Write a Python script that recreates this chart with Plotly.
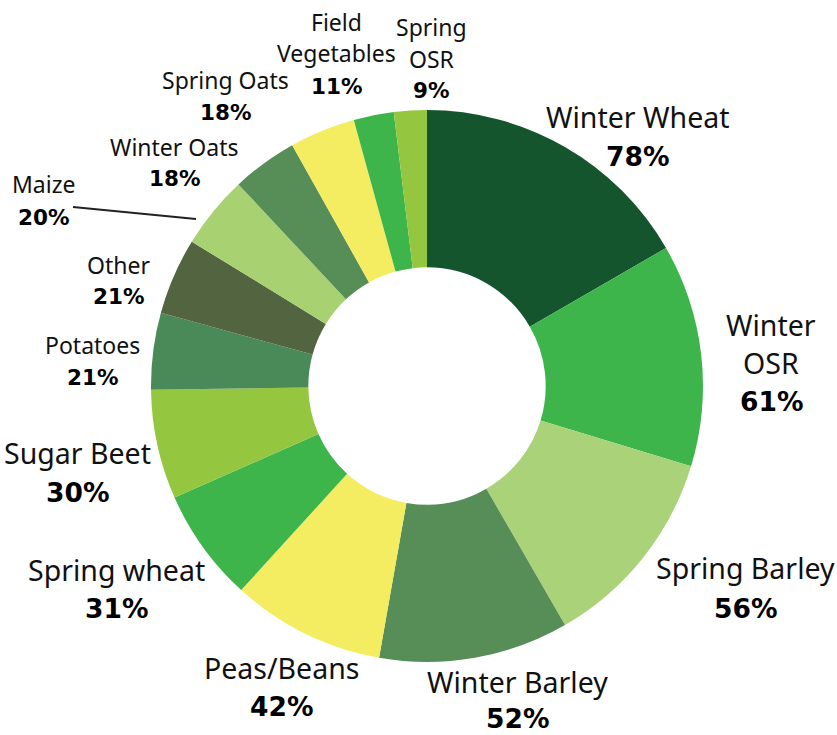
import plotly.graph_objects as go

crops = ["Winter Wheat", "Winter OSR", "Spring Barley", "Winter Barley", "Peas/Beans",
         "Spring wheat", "Sugar Beet", "Potatoes", "Other", "Maize", "Winter Oats",
         "Spring Oats", "Field Vegetables", "Spring OSR"]
values = [78, 61, 56, 52, 42, 31, 30, 21, 21, 20, 18, 18, 11, 9]
label_lines = [["Winter Wheat"], ["Winter", "OSR"], ["Spring Barley"], ["Winter Barley"],
               ["Peas/Beans"], ["Spring wheat"], ["Sugar Beet"], ["Potatoes"], ["Other"],
               ["Maize"], ["Winter Oats"], ["Spring Oats"], ["Field", "Vegetables"],
               ["Spring", "OSR"]]

colors = ["#14552E", "#3DB54B", "#AAD279", "#578E57", "#F4EC61", "#3DB54B", "#95C63F",
          "#4A8A58", "#526440", "#A8D171", "#578E57", "#F4EC61", "#3DB54B", "#95C63F"]

W, H = 837, 735
# label layout in pixels: x centre, y of each name line, y of percent, size class
label_pos = {
    "Winter Wheat": (637, [117], 156, "L"),
    "Winter OSR": (771, [325, 363], 401, "L"),
    "Spring Barley": (745, [568], 608, "L"),
    "Winter Barley": (517, [682], 718, "L"),
    "Peas/Beans": (281, [668], 706, "L"),
    "Spring wheat": (117, [570], 608, "L"),
    "Sugar Beet": (77, [453], 492, "L"),
    "Potatoes": (92, [345], 377, "S"),
    "Other": (118, [265], 297, "S"),
    "Maize": (43, [184], 217, "S"),
    "Winter Oats": (174, [147], 179, "S"),
    "Spring Oats": (225, [80], 112, "S"),
    "Field Vegetables": (336, [22, 53], 86, "S"),
    "Spring OSR": (431, [27, 59], 90, "S"),
}
name_size = {"L": 28.5, "S": 23}
pct_size = {"L": 26.5, "S": 21.5}

cx, cy, R = 427, 386, 276

fig = go.Figure(go.Pie(
    labels=crops, values=values, sort=False, direction="clockwise", rotation=0,
    hole=0.43, marker=dict(colors=colors, line=dict(width=0)), textinfo="none",
    hoverinfo="label+value", showlegend=False,
    domain=dict(x=[(cx - R) / W, (cx + R) / W], y=[(H - cy - R) / H, (H - cy + R) / H]),
))

annotations = []
for crop, lines, v in zip(crops, label_lines, values):
    x, ys, py, cls = label_pos[crop]
    for line, ny in zip(lines, ys):
        annotations.append(dict(x=x / W, y=1 - ny / H, xref="paper", yref="paper", text=line,
                                showarrow=False, xanchor="center", yanchor="middle",
                                font=dict(family="Noto Sans", size=name_size[cls], color="#111111")))
    annotations.append(dict(x=x / W, y=1 - py / H, xref="paper", yref="paper", text=f"{v}%",
                            showarrow=False, xanchor="center", yanchor="middle",
                            font=dict(family="DejaVu Sans", size=pct_size[cls], color="#000000",
                                      weight="bold")))

fig.update_layout(
    width=W, height=H, margin=dict(l=0, r=0, t=0, b=0),
    paper_bgcolor="white", plot_bgcolor="white",
    annotations=annotations,
    shapes=[dict(type="line", xref="paper", yref="paper", x0=73 / W, y0=1 - 207 / H,
                 x1=196 / W, y1=1 - 219 / H, line=dict(color="#222222", width=2))],
)
fig.write_html("out.html", config={"displayModeBar": False},
               post_script="document.body.style.margin='0px';")
